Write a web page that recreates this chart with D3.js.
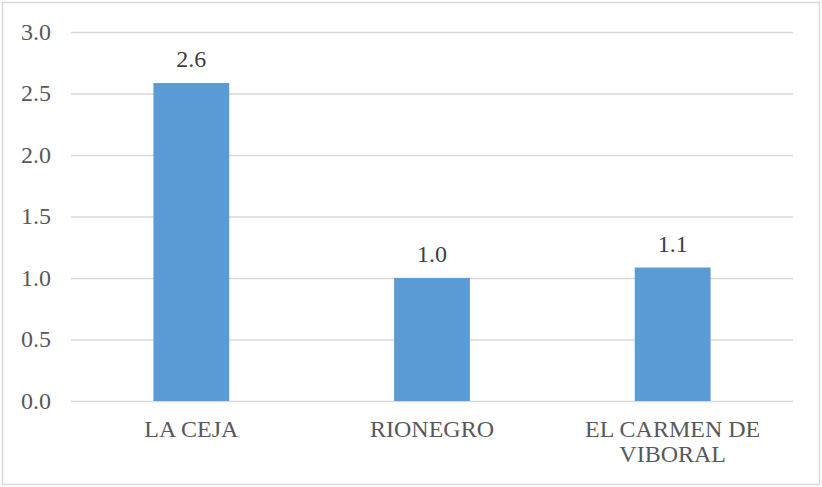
<!DOCTYPE html>
<html><head><meta charset="utf-8">
<script src="https://cdn.jsdelivr.net/npm/d3@7"></script>
<style>body{margin:0;background:#fff}svg{display:block}svg text{font-family:"Liberation Serif","Times New Roman",Times,"DejaVu Serif",serif}</style>
</head><body>
<script>
const categories = ["LA CEJA", "RIONEGRO", "EL CARMEN DE VIBORAL"];
const categoryLines = [["LA CEJA"], ["RIONEGRO"], ["EL CARMEN DE", "VIBORAL"]];
const values = [2.585, 1.0, 1.085];
const valueLabels = ["2.6", "1.0", "1.1"];
const ticks = [0, 0.5, 1.0, 1.5, 2.0, 2.5, 3.0];

const W = 822, H = 487;
const m = {left: 71, right: 29, top: 32, bottom: 86};
const fs = "24px";
const svg = d3.select("body").append("svg").attr("width", W).attr("height", H);
svg.append("rect").attr("x", 2.5).attr("y", 2.5).attr("width", W - 5).attr("height", H - 5)
  .attr("fill", "#fff").attr("stroke", "#d9d9d9").attr("stroke-width", 1.5);

const x = d3.scaleBand().domain(categories).range([m.left, W - m.right]).paddingInner(0.685).paddingOuter(0.3425);
const y = d3.scaleLinear().domain([0, 3]).range([H - m.bottom, m.top]);

const yAxis = d3.axisLeft(y).tickValues(ticks).tickFormat(d3.format(".1f")).tickSize(-(W - m.left - m.right)).tickPadding(20);
const gy = svg.append("g").attr("transform", `translate(${m.left},0)`).call(yAxis);
gy.attr("font-family", null).attr("font-size", null);
gy.select(".domain").remove();
gy.selectAll(".tick line").attr("stroke", "#d9d9d9").attr("stroke-width", 1.5);
gy.selectAll(".tick text").attr("fill", "#595959").attr("dy", "0.31em").style("font-size", fs);

svg.selectAll("rect.bar").data(values).enter().append("rect").attr("class", "bar")
  .attr("x", (d, i) => x(categories[i])).attr("width", x.bandwidth())
  .attr("y", d => y(d)).attr("height", d => y(0) - y(d)).attr("fill", "#5b9bd5");

svg.selectAll("text.val").data(values).enter().append("text").attr("class", "val")
  .attr("x", (d, i) => x(categories[i]) + x.bandwidth() / 2).attr("y", d => y(d) - 16)
  .attr("text-anchor", "middle").attr("fill", "#404040")
  .style("font-size", fs).text((d, i) => valueLabels[i]);

const cl = svg.selectAll("text.cat").data(categories).enter().append("text").attr("class", "cat")
  .attr("x", d => x(d) + x.bandwidth() / 2).attr("y", y(0) + 36)
  .attr("text-anchor", "middle").attr("fill", "#595959")
  .style("font-size", fs);
cl.each(function(d, i) {
  d3.select(this).selectAll("tspan").data(categoryLines[i]).enter().append("tspan")
    .attr("x", x(d) + x.bandwidth() / 2).attr("dy", (t, j) => j === 0 ? 0 : 25).text(t => t);
});
</script>
</body></html>
